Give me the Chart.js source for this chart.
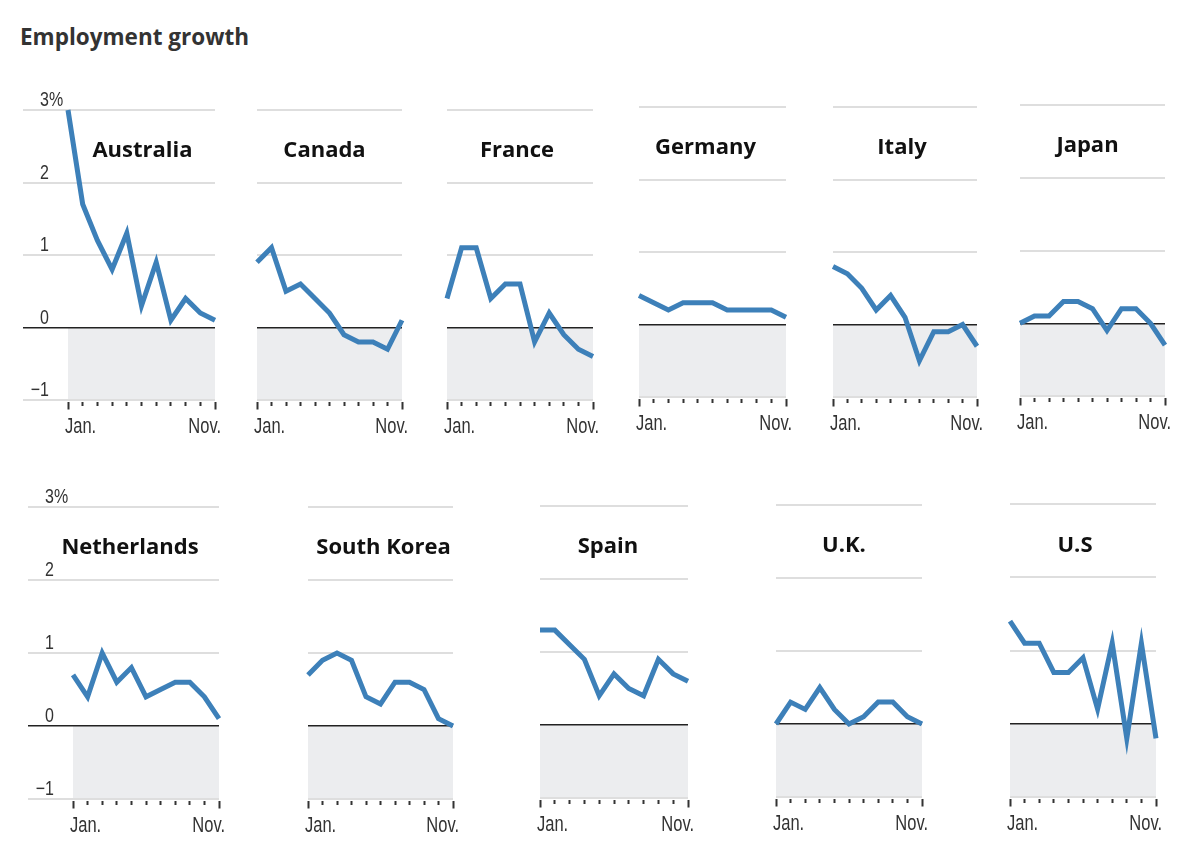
<!DOCTYPE html>
<html>
<head>
<meta charset="utf-8">
<script src="https://cdn.jsdelivr.net/npm/chart.js@4.4.1/dist/chart.umd.min.js"></script>
<style>
  body { margin: 0; background: #fff; width: 1200px; height: 865px; position: relative; overflow: hidden; }
  h1 { position: absolute; left: 20px; top: 21px; margin: 0; font: 700 22.5px 'Open Sans', sans-serif; color: #333; }
  canvas { position: absolute; }
</style>
</head>
<body>
<h1>Employment growth</h1>
<script>
'use strict';

// data, % change by month
let months = ['Jan.', 'Feb.', 'Mar.', 'Apr.', 'May', 'Jun.', 'Jul.', 'Aug.', 'Sep.', 'Oct.', 'Nov.'];
let countries = ['Australia', 'Canada', 'France', 'Germany', 'Italy', 'Japan',
    'Netherlands', 'South Korea', 'Spain', 'U.K.', 'U.S'];
let yTicks = [-1, 0, 1, 2, 3];

let australia = [3.0, 1.7, 1.2, 0.8, 1.3, 0.3, 0.9, 0.1, 0.4, 0.2, 0.1];
let canada = [0.9, 1.1, 0.5, 0.6, 0.4, 0.2, -0.1, -0.2, -0.2, -0.3, 0.1];
let france = [0.4, 1.1, 1.1, 0.4, 0.6, 0.6, -0.2, 0.2, -0.1, -0.3, -0.4];
let germany = [0.4, 0.3, 0.2, 0.3, 0.3, 0.3, 0.2, 0.2, 0.2, 0.2, 0.1];
let italy = [0.8, 0.7, 0.5, 0.2, 0.4, 0.1, -0.5, -0.1, -0.1, 0.0, -0.3];
let japan = [0.0, 0.1, 0.1, 0.3, 0.3, 0.2, -0.1, 0.2, 0.2, 0.0, -0.3];
let netherlands = [0.7, 0.4, 1.0, 0.6, 0.8, 0.4, 0.5, 0.6, 0.6, 0.4, 0.1];
let southKorea = [0.7, 0.9, 1.0, 0.9, 0.4, 0.3, 0.6, 0.6, 0.5, 0.1, 0.0];
let spain = [1.3, 1.3, 1.1, 0.9, 0.4, 0.7, 0.5, 0.4, 0.9, 0.7, 0.6];
let uk = [0.0, 0.3, 0.2, 0.5, 0.2, 0.0, 0.1, 0.3, 0.3, 0.1, 0.0];
let us = [1.4, 1.1, 1.1, 0.7, 0.7, 0.9, 0.2, 1.1, -0.2, 1.1, -0.2];

let series = [australia, canada, france, germany, italy, japan,
    netherlands, southKorea, spain, uk, us];

// where each panel sits on the page (plot area: Jan. tick to Nov. tick, 3% line to -1 line)
let boxes = [
    { left: 68, right: 215, top: 110, bottom: 400, axis: true, dx: 1 },
    { left: 257, right: 402, top: 110, bottom: 400, axis: false, dx: -5 },
    { left: 447, right: 593, top: 110, bottom: 400, axis: false, dx: -3 },
    { left: 639, right: 786, top: 107, bottom: 397, axis: false, dx: -7 },
    { left: 833, right: 977, top: 107, bottom: 397, axis: false, dx: -3 },
    { left: 1020, right: 1165, top: 105, bottom: 396, axis: false, dx: -5 },
    { left: 73, right: 219, top: 507, bottom: 799, axis: true, dx: -16 },
    { left: 308, right: 453, top: 507, bottom: 799, axis: false, dx: 3 },
    { left: 540, right: 688, top: 506, bottom: 798, axis: false, dx: -6 },
    { left: 776, right: 922, top: 505, bottom: 797, axis: false, dx: -5 },
    { left: 1010, right: 1156, top: 504, bottom: 797, axis: false, dx: -8 }
];

const PAD_TOP = 30;
const PAD_SIDE = 14;
const PAD_BOTTOM = 32;
const EXT = 45;
const TICK_LEN = 10;
const X_FONT = "22px 'Liberation Sans', Arial, sans-serif";
const Y_FONT = "20px 'Liberation Sans', Arial, sans-serif";

// narrow-looking label: squeeze a regular face horizontally
function narrowText(ctx, text, x, y, align, sx) {
    ctx.save();
    ctx.translate(x, y);
    ctx.scale(sx, 1);
    ctx.textAlign = align;
    ctx.fillText(text, 0, 0);
    ctx.restore();
}

function panelDecor(name, box) {
    return {
        id: 'panelDecor',
        beforeDraw(chart) {
            let ctx = chart.ctx;
            let area = chart.chartArea;
            let y = chart.scales.y;
            ctx.save();
            ctx.fillStyle = '#ecedef';
            let y0 = y.getPixelForValue(0);
            ctx.fillRect(area.left, y0, area.right - area.left, y.getPixelForValue(-1) - y0);
            ctx.restore();
        },
        beforeDatasetsDraw(chart) {
            let ctx = chart.ctx;
            let area = chart.chartArea;
            let x = chart.scales.x;
            let y = chart.scales.y;
            ctx.save();
            ctx.font = "700 22px 'Open Sans', sans-serif";
            ctx.fillStyle = '#111';
            ctx.textAlign = 'center';
            ctx.textBaseline = 'alphabetic';
            ctx.fillText(name, (area.left + area.right) / 2 + box.dx, y.getPixelForValue(2.35));

            ctx.fillStyle = '#333';
            // month labels at both ends of the axis
            ctx.font = X_FONT;
            let last = months.length - 1;
            let base = y.getPixelForValue(-1) + 33;
            narrowText(ctx, months[0], x.getPixelForValue(0) - 3, base, 'left', 0.75);
            narrowText(ctx, months[last], x.getPixelForValue(last) + 6, base, 'right', 0.75);

            if (box.axis) {
                ctx.font = Y_FONT;
                let xr = area.left - 19;
                for (let i = 0; i < yTicks.length; i++) {
                    let v = yTicks[i];
                    let py = y.getPixelForValue(v) - 4;
                    narrowText(ctx, v < 0 ? '\u2212' + Math.abs(v) : String(v), xr, py, 'right', 0.8);
                    if (v === yTicks[yTicks.length - 1]) {
                        narrowText(ctx, '%', xr, py, 'left', 0.8);
                    }
                }
            }
            ctx.restore();
        }
    };
}

function makePanel(i) {
    let box = boxes[i];
    let ext = box.axis ? EXT : 0;
    let padL = PAD_SIDE + ext;
    let canvas = document.createElement('canvas');
    canvas.width = box.right - box.left + padL + PAD_SIDE;
    canvas.height = PAD_TOP + (box.bottom - box.top) + TICK_LEN + PAD_BOTTOM;
    canvas.style.left = (box.left - padL) + 'px';
    canvas.style.top = (box.top - PAD_TOP) + 'px';
    document.body.appendChild(canvas);

    let last = months.length - 1;
    new Chart(canvas, {
        type: 'line',
        data: {
            labels: months,
            datasets: [{
                label: countries[i],
                data: series[i],
                borderColor: '#3d80b9',
                borderWidth: 5,
                pointRadius: 0,
                tension: 0,
                clip: false
            }]
        },
        options: {
            responsive: false,
            animation: false,
            events: [],
            layout: { padding: { top: PAD_TOP, left: PAD_SIDE, right: PAD_SIDE, bottom: PAD_BOTTOM } },
            plugins: { legend: { display: false }, tooltip: { enabled: false } },
            scales: {
                x: {
                    border: { display: false },
                    grid: {
                        drawOnChartArea: false,
                        tickLength: TICK_LEN,
                        tickColor: '#333',
                        tickWidth: 2,
                        tickBorderDash: (c) => (c.index === 0 || c.index === last) ? [0, 2, 7.5, 30] : [0, 2, 4, 30]
                    },
                    ticks: { display: false }
                },
                y: {
                    min: -1,
                    max: 3,
                    border: { display: false },
                    ticks: { stepSize: 1, display: false },
                    grid: {
                        drawTicks: box.axis,
                        tickLength: ext,
                        color: (c) => c.tick.value === 0 ? '#222' : '#dedede',
                        lineWidth: (c) => c.tick.value === 0 ? 1.5 : 2
                    }
                }
            }
        },
        plugins: [panelDecor(countries[i], box)]
    });
}

for (let i = 0; i < countries.length; i++) {
    makePanel(i);
}
</script>
</body>
</html>
